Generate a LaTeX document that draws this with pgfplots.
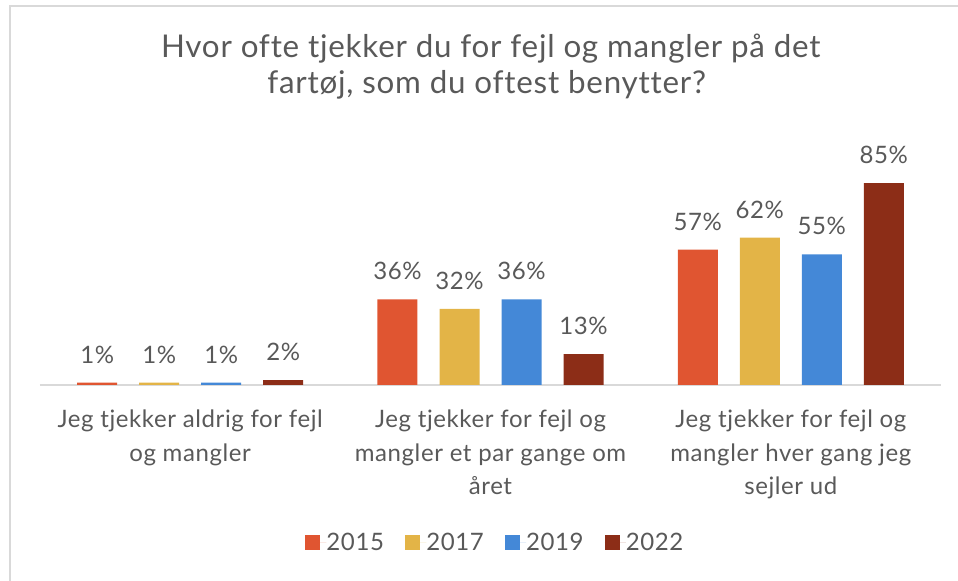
\documentclass[border=0pt]{standalone}
\usepackage{fontspec}
\setmainfont{Lato}[LetterSpace=2.5, Ligatures=NoCommon]
\usepackage{pgfplots}
\pgfplotsset{compat=1.18}
\definecolor{cA}{HTML}{E05531}
\definecolor{cB}{HTML}{E3B447}
\definecolor{cC}{HTML}{4488D7}
\definecolor{cD}{HTML}{8C2D17}
\definecolor{txt}{HTML}{595959}
\definecolor{axgray}{HTML}{D9D9D9}
\begin{document}
\begin{tikzpicture}
\useasboundingbox (0,0) rectangle (718.5pt,435.75pt);
\draw[axgray, line width=1.5pt] (7.5pt,-10pt) -- (7.5pt,431.25pt) -- (730pt,431.25pt);
\node[font=\fontsize{23.5pt}{27pt}\selectfont, text=txt, anchor=base, inner sep=0pt] at (368.1pt,392.25pt) {Hvor ofte tjekker du for fejl og mangler på det};
\node[font=\fontsize{23.5pt}{27pt}\selectfont, text=txt, anchor=base, inner sep=0pt] at (365pt,365.25pt) {fartøj, som du oftest benytter?};
\begin{axis}[
  at={(30pt,147pt)}, anchor=south west,
  width=675.75pt, height=178.2pt, scale only axis,
  xmin=-0.5, xmax=2.5, ymin=0, ymax=100,
  enlargelimits=false,
  axis x line=bottom, hide y axis,
  axis line style={draw=axgray, line width=1.5pt, -},
  xtick={0,1,2}, major tick length=0pt,
  xticklabels={{Jeg tjekker aldrig for fejl\\og mangler},{Jeg tjekker for fejl og\\mangler et par gange om\\året},{Jeg tjekker for fejl og\\mangler hver gang jeg\\sejler ud}},
  xticklabel style={align=center, font=\fontsize{18pt}{25pt}\selectfont, text=txt, anchor=north, inner sep=0pt, yshift=-18.75pt},
  ybar=16.5pt, bar width=30pt,
  /pgf/number format/assume math mode=true,
  nodes near coords={\pgfmathprintnumber{\pgfplotspointmeta}\%},
  nodes near coords style={font=\fontsize{18pt}{22pt}\selectfont, text=txt, anchor=base, inner sep=0pt, yshift=14.6pt},
  legend columns=4,
  legend style={at={(0.5044,-0.6629)}, anchor=center, draw=none, fill=none,
    font=\fontsize{18pt}{22pt}\selectfont, text=txt,
    /tikz/every even column/.append style={column sep=16pt},
    nodes={inner sep=0pt, text=txt}},
  legend image code/.code={\fill[#1] (0pt,-5.6pt) rectangle (11.25pt,5.6pt); \path (0pt,0pt) -- (15.75pt,0pt);},
]
\addplot[fill=cA, draw=none] coordinates {(0,1) (1,36) (2,57)};
\addplot[fill=cB, draw=none] coordinates {(0,1) (1,32) (2,62)};
\addplot[fill=cC, draw=none] coordinates {(0,1) (1,36) (2,55)};
\addplot[fill=cD, draw=none] coordinates {(0,2) (1,13) (2,85)};
\legend{2015,2017,2019,2022}
\end{axis}
\end{tikzpicture}
\end{document}
